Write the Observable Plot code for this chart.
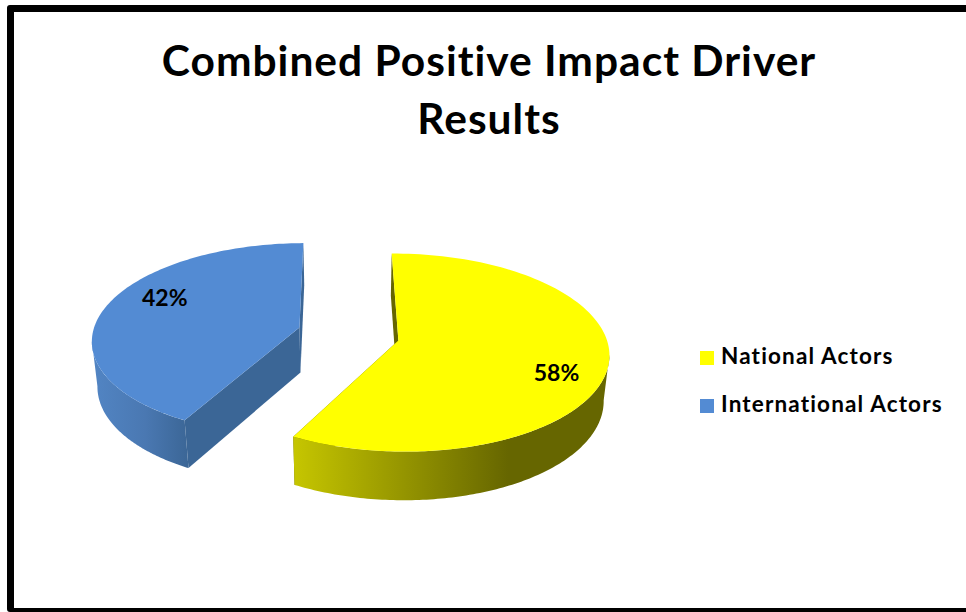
<!DOCTYPE html>
<html>
<head>
<meta charset="utf-8">
<script src="https://cdn.jsdelivr.net/npm/d3@7"></script>
<script src="https://cdn.jsdelivr.net/npm/@observablehq/plot@0.6"></script>
<style>
  html, body { margin: 0; padding: 0; background: #fff; }
  #frame { position: relative; width: 966px; height: 612px; overflow: hidden; background: #fff; font-family: Lato, sans-serif; color: #000; font-variant-ligatures: none; }
  #border { position: absolute; left: 7px; top: 5px; right: -10px; bottom: 0; border: 7px solid #000; border-bottom-width: 4px; border-radius: 3px; box-sizing: border-box; }
  h1 { position: absolute; left: 0; top: 31px; width: 978px; margin: 0; text-align: center; font-size: 42.5px; letter-spacing: 1px; line-height: 58px; font-weight: 700; }
  #chart { position: absolute; left: 0; top: 150px; }
  #legend { position: absolute; left: 700px; top: 341px; font-size: 22.5px; letter-spacing: 1.15px; font-weight: 700; }
  .item { position: absolute; left: 0; white-space: nowrap; height: 30px; line-height: 30px; }
  .swatch { display: inline-block; width: 14px; height: 14px; margin-right: 7px; vertical-align: -1px; }
</style>
</head>
<body>
<div id="frame">
  <div id="border"></div>
  <h1>Combined Positive Impact Driver<br>Results</h1>
  <div id="chart"></div>
  <div id="legend"></div>
</div>
<script>
const categories = ["National Actors", "International Actors"];
const shares = [58, 42];
const topColors = ["#ffff00", "#538bd3"];
const wallColors = ["#666600", "#3b6696"];

// Tilted-pie camera, in units of the pie radius.
const firstAngle = -0.4;      // degrees clockwise from 12 o'clock
const perspective = 0.12;     // the near rim looks larger than the far rim
const thickness = 0.48;       // drop of the lower rim, in y-scale units
const lowerShrink = 0.022;    // the lower rim sits slightly further away
const explode = [0.239, -0.068]; // sideways and depthwise pull of the first slice
const silhouette = [98, 262]; // rim angles where the side of the pie turns away

const rad = d => d * Math.PI / 180;

function project(u, v, lower) {
  const w = 1 + perspective * v + (lower ? lowerShrink : 0);
  return {x: u / w, y: (v - (lower ? thickness : 0)) / w};
}

// Slice boundaries follow from the shares.
const total = d3.sum(shares);
let running = firstAngle;
const slices = categories.map((category, i) => {
  const start = running;
  const end = start + shares[i] / total * 360;
  running = end;
  const sign = i === 0 ? 1 : -1;
  return {category, share: shares[i], start, end, du: explode[0] * sign, dv: explode[1] * sign, wall: wallColors[i], i};
});

function point(s, angle, r, lower) {
  const a = rad(angle);
  return {category: s.category, ...project(r * Math.sin(a) + s.du, r * Math.cos(a) + s.dv, lower)};
}

function rim(s, from, to, lower) {
  return d3.range(0, 121).map(k => point(s, from + (to - from) * k / 120, 1, lower));
}

function topFace(s) {
  return [point(s, s.start, 0, false), ...rim(s, s.start, s.end, false)];
}

function radialWall(s, angle) {
  return [point(s, angle, 0, false), point(s, angle, 1, false), point(s, angle, 1, true), point(s, angle, 0, true)];
}

// Only the part of the rim turned towards the viewer needs a wall.
function frontWall(s) {
  const from = Math.max(s.start, silhouette[0]);
  const to = Math.min(s.end, silhouette[1]);
  return [...rim(s, from, to, false), ...rim(s, from, to, true).reverse()];
}

const gradients = () => {
  const defs = d3.create("svg:defs");
  const add = (id, stops) => {
    const g = defs.append("linearGradient").attr("id", id).attr("x1", 0).attr("x2", 1).attr("y1", 0).attr("y2", 0);
    stops.forEach(([o, c]) => g.append("stop").attr("offset", o).attr("stop-color", c));
  };
  add("rim0", [[0, "#c6c600"], [0.68, "#666600"], [1, "#666600"]]);
  add("rim1", [[0, "#5285c4"], [0.55, "#4a78b2"], [1, "#3b6696"]]);
  return defs.node();
};

const lineOpts = fill => ({x: "x", y: "y", fill, stroke: null, curve: "linear"});

const labelTurn = 10.5;
const labelRadius = 0.775;
const labelRows = slices.map(s => ({
  ...point(s, (s.start + s.end) / 2 + labelTurn, labelRadius, false),
  text: `${s.share}%`
}));

const chart = Plot.plot({
  width: 966,
  height: 450,
  margin: 0,
  x: {domain: [-1, 1], range: [141, 555], axis: null},
  y: {domain: [-1, 1], range: [279.5, 87.5], axis: null},
  color: {domain: categories, range: topColors},
  marks: [
    gradients,
    ...slices.flatMap(s => [
      Plot.line(radialWall(s, s.start), lineOpts(s.wall)),
      Plot.line(radialWall(s, s.end), lineOpts(s.wall))
    ]),
    ...slices.map(s => Plot.line(frontWall(s), lineOpts(`url(#rim${s.i})`))),
    ...slices.map(s => Plot.line(topFace(s), lineOpts("category"))),
    Plot.text(labelRows, {x: "x", y: "y", dx: 3, text: "text", fontSize: 23, fontWeight: 700, fontFamily: "Lato, sans-serif", fill: "#000"})
  ]
});
document.getElementById("chart").append(chart);

// Legend beside the pie, coloured from the same palette.
const legend = d3.select("#legend");
categories.forEach((c, i) => {
  const item = legend.append("div").attr("class", "item").style("top", `${i * 48}px`);
  item.append("span").attr("class", "swatch").style("background", topColors[i]);
  item.append("span").text(c);
});
</script>
</body>
</html>
